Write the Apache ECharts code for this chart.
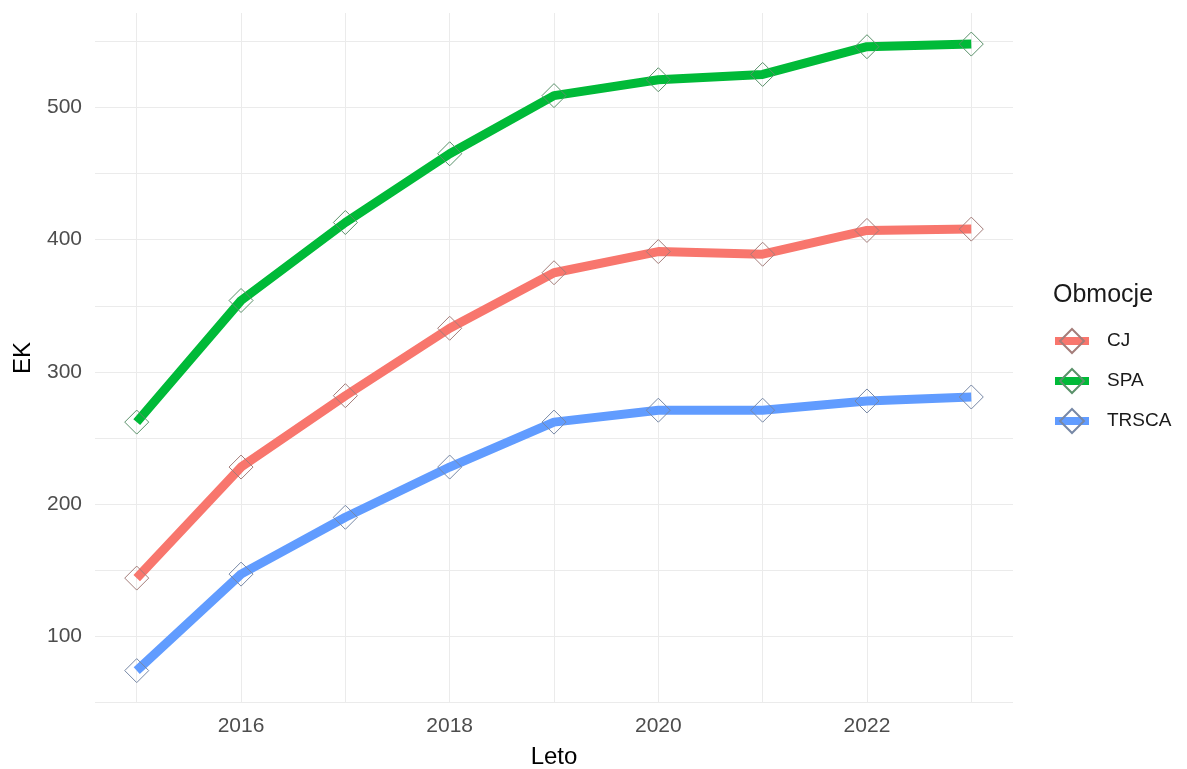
<!DOCTYPE html>
<html>
<head>
<meta charset="utf-8">
<script src="https://cdn.jsdelivr.net/npm/echarts@6/dist/echarts.min.js"></script>
<style>
html,body{margin:0;padding:0;background:#fff;}
#chart{width:1187px;height:769px;}
</style>
</head>
<body>
<div id="chart"></div>
<script>
const years = [2015, 2016, 2017, 2018, 2019, 2020, 2021, 2022, 2023];
const seriesNames = ['CJ', 'SPA', 'TRSCA'];
const cjValues = [144, 228, 282, 333, 375, 391, 389, 407, 408];
const spaValues = [262, 354, 413, 465, 509, 521, 525, 546, 548];
const trscaValues = [74, 147, 190, 228, 262, 271, 271, 278, 281];
const xTickLabels = [2016, 2018, 2020, 2022];
const xGridValues = [2015, 2016, 2017, 2018, 2019, 2020, 2021, 2022, 2023];
const yTickLabels = [100, 200, 300, 400, 500];
const yGridValues = [50, 100, 150, 200, 250, 300, 350, 400, 450, 500, 550];

const colors = ['#F8766D', '#00BA38', '#619CFF'];
const outlineColors = ['#A47D7A', '#5A916A', '#7788A6'];
const allValues = [cjValues, spaValues, trscaValues];
const font = "'Liberation Sans', Arial, sans-serif";

const chart = echarts.init(document.getElementById('chart'));
chart.setOption({
  backgroundColor: '#ffffff',
  animation: false,
  textStyle: { fontFamily: font },
  title: {
    text: 'Obmocje', left: 1048, top: 278,
    textStyle: { fontFamily: font, fontSize: 25, fontWeight: 'normal', color: '#1a1a1a' }
  },
  legend: {
    orient: 'vertical', left: 1046, top: 323,
    itemWidth: 34, itemHeight: 30, itemGap: 14,
    data: seriesNames,
    lineStyle: { width: 8 },
    textStyle: { fontFamily: font, fontSize: 19, color: '#1a1a1a', padding: [0, 0, 0, 13] }
  },
  grid: { left: 95, right: 174, top: 13, bottom: 66, containLabel: false, outerBoundsMode: 'none' },
  xAxis: {
    type: 'value', min: 2014.6, max: 2023.4,
    name: 'Leto', nameLocation: 'middle', nameGap: 42,
    nameTextStyle: { fontFamily: font, fontSize: 24, color: '#000' },
    axisLine: { show: false },
    axisTick: { show: false, customValues: xGridValues },
    axisLabel: { customValues: xTickLabels, formatter: v => String(v), fontFamily: font, fontSize: 21, color: '#4d4d4d', margin: 13 },
    splitLine: { show: true, lineStyle: { color: '#ebebeb', width: 1 } }
  },
  yAxis: {
    type: 'value', min: 49.5, max: 571.5,
    name: 'EK', nameLocation: 'middle', nameGap: 60, nameRotate: 90,
    nameTextStyle: { fontFamily: font, fontSize: 24, color: '#000' },
    axisLine: { show: false },
    axisTick: { show: false, customValues: yGridValues },
    axisLabel: { customValues: yTickLabels, formatter: v => String(v), fontFamily: font, fontSize: 21, color: '#4d4d4d', margin: 13 },
    splitLine: { show: true, lineStyle: { color: '#ebebeb', width: 1 } }
  },
  series: seriesNames.map((name, i) => ({
    name: name,
    type: 'line',
    data: years.map((y, j) => [y, allValues[i][j]]),
    color: colors[i],
    lineStyle: { width: 9, color: colors[i] },
    symbol: 'diamond',
    symbolSize: [24, 24],
    showAllSymbol: true,
    itemStyle: { color: 'rgba(255,255,255,0)', borderColor: outlineColors[i], borderWidth: 1 },
    z: 2
  }))
});
</script>
</body>
</html>
